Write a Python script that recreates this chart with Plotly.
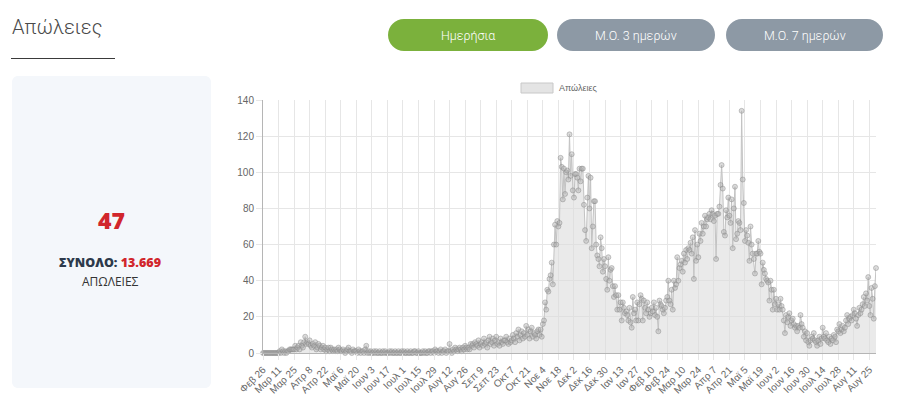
import plotly.graph_objects as go
import pandas as pd

# ---- data (daily deaths) ----
feb20 = [0, 0, 0, 0]
mar20 = [0, 0, 0, 0, 0, 0, 0, 0, 0, 0, 0, 1, 0, 2, 1, 0, 1, 0, 1, 1, 2, 2, 2, 2, 2, 4, 2, 3, 4, 2, 6]
apr20 = [4, 3, 6, 9, 5, 6, 5, 7, 4, 3, 5, 4, 6, 2, 3, 5, 4, 2, 3, 4, 2, 3, 1, 2, 3, 1, 3, 2, 1, 2]
may20 = [1, 2, 1, 3, 2, 1, 1, 2, 1, 0, 1, 2, 3, 1, 1, 0, 2, 1, 1, 1, 0, 2, 1, 0, 1, 1, 0, 2, 4, 0, 1]
jun20 = [0, 1, 0, 0, 1, 0, 1, 0, 0, 1, 0, 0, 1, 0, 1, 0, 0, 0, 1, 0, 1, 0, 0, 1, 0, 0, 1, 0, 0, 1]
jul20 = [0, 1, 0, 0, 1, 0, 0, 1, 0, 0, 1, 1, 0, 0, 1, 0, 0, 0, 1, 0, 1, 0, 0, 1, 1, 0, 1, 1, 0, 2, 1]
aug20 = [1, 0, 1, 2, 0, 1, 1, 2, 0, 1, 1, 5, 1, 0, 2, 1, 3, 2, 1, 2, 3, 2, 1, 3, 2, 4, 3, 2, 3, 2, 5]
sep20 = [4, 5, 3, 6, 5, 4, 7, 3, 5, 6, 4, 8, 5, 6, 3, 7, 9, 5, 6, 8, 4, 7, 9, 5, 6, 4, 8, 6, 5, 7]
oct20 = [7, 9, 6, 5, 8, 6, 7, 10, 8, 6, 11, 9, 13, 7, 10, 12, 8, 11, 9, 15, 10, 13, 8, 12, 14, 9, 11, 10, 8, 12, 13]
nov20 = [10, 13, 9, 16, 18, 28, 24, 35, 34, 41, 43, 50, 38, 60, 71, 60, 73, 70, 72, 108,
         103, 85, 102, 88, 100, 101, 96, 121, 98, 110]
dec20 = [90, 86, 99, 99, 97, 90, 102, 95, 102, 102, 82, 68, 62, 86, 98, 80, 97, 58, 70, 84,
         84, 60, 54, 52, 48, 64, 58, 45, 52, 48, 41]
jan21 = [35, 53, 40, 46, 47, 37, 31, 37, 32, 24, 32, 24, 28, 18, 28, 25, 22, 23, 21, 18,
         25, 17, 14, 31, 22, 24, 18, 28, 18, 27, 32]
feb21 = [30, 18, 29, 25, 22, 28, 24, 20, 22, 25, 23, 28, 21, 25, 20, 12, 29, 27, 26, 24,
         22, 25, 29, 31, 40, 29, 27, 35]
mar21 = [24, 40, 36, 38, 53, 40, 47, 49, 51, 45, 55, 50, 57, 52, 58, 57, 61, 55, 64, 41,
         68, 51, 60, 53, 66, 62, 72, 66, 70, 76, 70]
apr21 = [74, 75, 77, 74, 79, 77, 73, 76, 52, 77, 77, 81, 93, 104, 91, 67, 65, 79, 75, 86,
         76, 72, 85, 58, 80, 92, 63, 66, 73, 72]
may21 = [68, 134, 96, 83, 62, 68, 65, 61, 51, 70, 60, 55, 52, 44, 55, 55, 62, 56, 55, 38,
         50, 46, 44, 41, 40, 39, 29, 40, 35, 24, 35]
jun21 = [27, 30, 24, 27, 24, 30, 26, 24, 18, 11, 21, 17, 20, 22, 15, 18, 19, 16, 14, 15,
         12, 15, 14, 21, 16, 14, 9, 12, 7, 11]
jul21 = [6, 4, 7, 9, 8, 11, 7, 6, 4, 7, 9, 5, 8, 14, 9, 8, 11, 7, 6, 9,
         5, 8, 7, 10, 9, 6, 13, 12, 16, 11, 13]
aug21 = [15, 12, 14, 18, 21, 16, 19, 20, 18, 21, 24, 22, 19, 15, 21, 25, 22, 24, 27, 31,
         26, 33, 29, 42, 26, 21, 36, 30, 19, 37, 47]

tick_labels = ["Φεβ 26", "Μαρ 11", "Μαρ 25", "Απρ 8", "Απρ 22", "Μαϊ 6", "Μαϊ 20", "Ιουν 3",
               "Ιουν 17", "Ιουλ 1", "Ιουλ 15", "Ιουλ 29", "Αυγ 12", "Αυγ 26", "Σεπ 9", "Σεπ 23",
               "Οκτ 7", "Οκτ 21", "Νοε 4", "Νοε 18", "Δεκ 2", "Δεκ 16", "Δεκ 30", "Ιαν 13",
               "Ιαν 27", "Φεβ 10", "Φεβ 24", "Μαρ 10", "Μαρ 24", "Απρ 7", "Απρ 21", "Μαϊ 5",
               "Μαϊ 19", "Ιουν 2", "Ιουν 16", "Ιουν 30", "Ιουλ 14", "Ιουλ 28", "Αυγ 11", "Αυγ 25"]

series_name = "Απώλειες"
latest_value = "47"
total_value = "13.669"

values = (feb20 + mar20 + apr20 + may20 + jun20 + jul20 + aug20 + sep20 + oct20 + nov20 + dec20
          + jan21 + feb21 + mar21 + apr21 + may21 + jun21 + jul21 + aug21)
dates = pd.date_range("2020-02-26", periods=len(values), freq="D")
tick_dates = list(dates[::14])

# ---- layout geometry (pixels) ----
W, H = 900, 404
L, R, T, B = 263, 24, 100, 51
PW, PH = W - L - R, H - T - B


def px(x):
    return (x - L) / PW


def py(y):
    return (H - B - y) / PH


def rrect(x0, y0, x1, y1, r):
    k = 0.5523 * r
    pts = [
        f"M {px(x0 + r)},{py(y0)}",
        f"L {px(x1 - r)},{py(y0)}",
        f"C {px(x1 - r + k)},{py(y0)} {px(x1)},{py(y0 + r - k)} {px(x1)},{py(y0 + r)}",
        f"L {px(x1)},{py(y1 - r)}",
        f"C {px(x1)},{py(y1 - r + k)} {px(x1 - r + k)},{py(y1)} {px(x1 - r)},{py(y1)}",
        f"L {px(x0 + r)},{py(y1)}",
        f"C {px(x0 + r - k)},{py(y1)} {px(x0)},{py(y1 - r + k)} {px(x0)},{py(y1 - r)}",
        f"L {px(x0)},{py(y0 + r)}",
        f"C {px(x0)},{py(y0 + r - k)} {px(x0 + r - k)},{py(y0)} {px(x0 + r)},{py(y0)}",
        "Z",
    ]
    return " ".join(pts)


fig = go.Figure()
fig.add_trace(go.Scatter(
    x=dates, y=values, mode="lines+markers", name=series_name,
    fill="tozeroy", fillcolor="rgba(220,220,220,0.6)",
    line=dict(color="rgba(195,195,195,1)", width=1),
    marker=dict(size=5, color="rgba(175,175,175,0.45)",
                line=dict(color="rgba(135,135,135,0.45)", width=1)),
    cliponaxis=False, showlegend=False,
))

shapes = [
    # left info panel
    dict(type="path", xref="paper", yref="paper", path=rrect(12, 76, 211, 388, 6),
         fillcolor="#f4f7fb", line=dict(width=0), layer="below"),
    # title underline
    dict(type="line", xref="paper", yref="paper", x0=px(11), x1=px(115), y0=py(58.5), y1=py(58.5),
         line=dict(color="#3a3a3a", width=1)),
    # buttons
    dict(type="path", xref="paper", yref="paper", path=rrect(388, 19, 548, 51, 16),
         fillcolor="#7bb13c", line=dict(width=0)),
    dict(type="path", xref="paper", yref="paper", path=rrect(557, 19, 715, 51, 16),
         fillcolor="#8d99a5", line=dict(width=0)),
    dict(type="path", xref="paper", yref="paper", path=rrect(726, 19, 883, 51, 16),
         fillcolor="#8d99a5", line=dict(width=0)),
    # legend box
    dict(type="rect", xref="paper", yref="paper", x0=px(521), x1=px(553), y0=py(83), y1=py(93),
         fillcolor="#e4e4e4", line=dict(color="#c8c8c8", width=1)),
]

ann = [
    dict(text="Απώλειες", x=px(10), y=py(27), xanchor="left", yanchor="middle",
         font=dict(family="Roboto", size=20, color="#4a4a4a", weight=300)),
    dict(text="Ημερήσια", x=px(468), y=py(35.5), xanchor="center", yanchor="middle",
         font=dict(family="Roboto", size=12.5, color="#ffffff", weight=300)),
    dict(text="Μ.Ο. 3 ημερών", x=px(636), y=py(35.5), xanchor="center", yanchor="middle",
         font=dict(family="Roboto", size=12.5, color="#ffffff", weight=300)),
    dict(text="Μ.Ο. 7 ημερών", x=px(804.5), y=py(35.5), xanchor="center", yanchor="middle",
         font=dict(family="Roboto", size=12.5, color="#ffffff", weight=300)),
    dict(text=latest_value, x=px(111), y=py(220), xanchor="center", yanchor="middle",
         font=dict(family="Open Sans", size=23, color="#d1262c", weight=800)),
    dict(text=f"<span style='color:#2d3a4b'>ΣΥΝΟΛΟ:</span> <span style='color:#d1262c'>{total_value}</span>",
         x=px(110), y=py(262), xanchor="center", yanchor="middle",
         font=dict(family="Open Sans", size=12.5, color="#2d3a4b", weight=800)),
    dict(text="ΑΠΩΛΕΙΕΣ", x=px(110), y=py(281), xanchor="center", yanchor="middle",
         font=dict(family="Open Sans", size=12, color="#333333")),
    dict(text=series_name, x=px(557), y=py(88), xanchor="left", yanchor="middle",
         font=dict(family="Liberation Sans", size=9, color="#666666")),
]
for a in ann:
    a.update(xref="paper", yref="paper", showarrow=False)

fig.update_layout(
    width=W, height=H, margin=dict(l=L, r=R, t=T, b=B, pad=0),
    paper_bgcolor="white", plot_bgcolor="white",
    shapes=shapes, annotations=ann, showlegend=False,
    font=dict(family="Liberation Sans", size=10, color="#666666"),
    xaxis=dict(
        range=[dates[0], dates[-1]], tickvals=tick_dates, ticktext=tick_labels,
        tickangle=-45, showgrid=True, gridcolor="#e6e6e6", gridwidth=1,
        ticks="outside", ticklen=6, tickcolor="#e6e6e6",
        showline=True, linecolor="#b5b5b5", linewidth=1, zeroline=False,
        tickfont=dict(family="Liberation Sans", size=10, color="#666666"),
        automargin=False, fixedrange=True,
    ),
    yaxis=dict(
        range=[0, 140], tickvals=[0, 20, 40, 60, 80, 100, 120, 140],
        showgrid=True, gridcolor="#e6e6e6", gridwidth=1,
        ticks="outside", ticklen=6, tickcolor="#e6e6e6",
        showline=True, linecolor="#b5b5b5", linewidth=1, zeroline=False,
        tickfont=dict(family="Liberation Sans", size=10, color="#666666"),
        automargin=False, fixedrange=True,
    ),
)

fig.write_html("out.html", config={"displayModeBar": False})
